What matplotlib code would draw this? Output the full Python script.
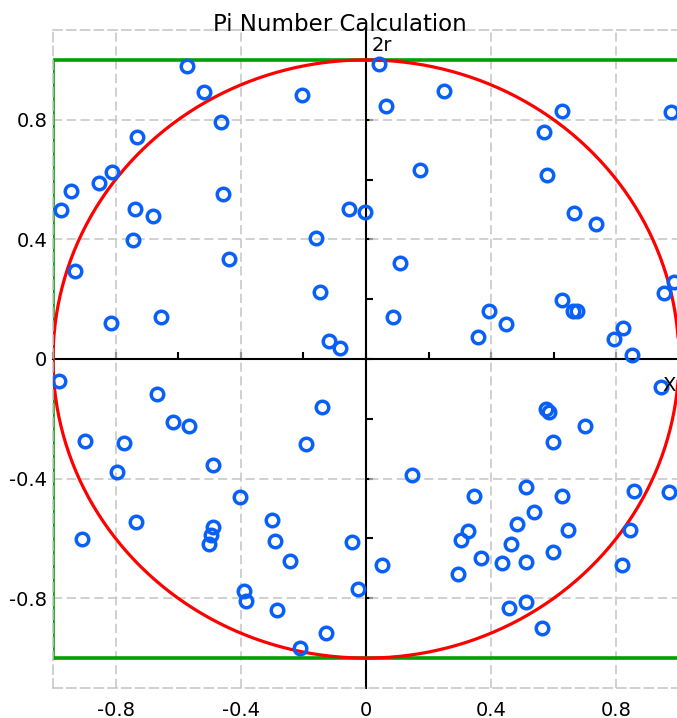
import matplotlib
matplotlib.use("Agg")
import matplotlib.pyplot as plt
import matplotlib.ticker as mticker
import numpy as np

# random points (x, y)
px = [-0.572, -0.516, -0.464, -0.733, -0.811, -0.852, -0.942, -0.974, -0.738, -0.680,
      -0.457, -0.743, -0.439, -0.929, -0.655, -0.814,
      0.041, -0.204, 0.248, 0.065, 0.172, -0.055, -0.003, -0.158, 0.110, -0.148,
      0.085, -0.117, -0.082,
      0.627, 0.570, 0.975, 0.578, 0.666, 0.734, 0.983, 0.953, 0.627, 0.662,
      0.676, 0.394, 0.447, 0.359, 0.823, 0.792, 0.851,
      -0.982, -0.668, -0.617, -0.567, -0.899, -0.772, -0.796, -0.488, -0.404, -0.734,
      -0.908, -0.489, -0.495, -0.502, -0.390, -0.382,
      -0.142, -0.193, 0.147, -0.300, -0.291, -0.046, -0.244, 0.052, -0.024, -0.283,
      -0.128, -0.211,
      0.943, 0.576, 0.585, 0.699, 0.598, 0.512, 0.345, 0.628, 0.856, 0.969,
      0.538, 0.482, 0.327, 0.305, 0.645, 0.845, 0.465, 0.367, 0.436, 0.510,
      0.598, 0.819, 0.294, 0.457, 0.510, 0.563]
py = [0.981, 0.892, 0.791, 0.741, 0.624, 0.587, 0.561, 0.497, 0.500, 0.477,
      0.552, 0.398, 0.333, 0.295, 0.139, 0.120,
      0.985, 0.883, 0.897, 0.847, 0.632, 0.500, 0.493, 0.405, 0.321, 0.223,
      0.140, 0.060, 0.038,
      0.830, 0.759, 0.827, 0.615, 0.488, 0.452, 0.258, 0.221, 0.196, 0.161,
      0.161, 0.161, 0.117, 0.074, 0.105, 0.066, 0.012,
      -0.075, -0.116, -0.210, -0.224, -0.275, -0.282, -0.377, -0.354, -0.460, -0.544,
      -0.602, -0.562, -0.587, -0.618, -0.777, -0.810,
      -0.162, -0.285, -0.389, -0.539, -0.608, -0.611, -0.676, -0.690, -0.768, -0.840,
      -0.915, -0.967,
      -0.095, -0.167, -0.178, -0.225, -0.278, -0.427, -0.459, -0.459, -0.442, -0.445,
      -0.512, -0.550, -0.574, -0.606, -0.573, -0.572, -0.618, -0.664, -0.681, -0.678,
      -0.645, -0.688, -0.718, -0.832, -0.811, -0.898]

r = 1.0
square_x = [-r, r, r, -r, -r]
square_y = [-r, -r, r, r, -r]
ticks = [-0.8, -0.4, 0, 0.4, 0.8]
tick_labels = ['-0.8', '-0.4', '0', '0.4', '0.8']

fig = plt.figure(figsize=(6.77, 7.18), dpi=100)
ax = fig.add_axes([53/677, 30/718, 1 - 53/677, 658/718])
xmin, xmax = -1.0, 0.994
ax.set_xlim(xmin, xmax)
ax.set_ylim(-1.1, 1.1)

# dashed grey frame + grid
for s in ['left', 'top', 'bottom']:
    ax.spines[s].set_linestyle((0, (6, 3)))
    ax.spines[s].set_color('#c4c4c4')
    ax.spines[s].set_linewidth(1.1)
ax.spines['right'].set_visible(False)
ax.set_xticks(ticks, tick_labels)
ax.set_yticks(ticks, tick_labels)
ax.tick_params(length=0, labelsize=14)
ax.tick_params(axis='x', pad=9)
ax.tick_params(axis='y', pad=4)
ax.grid(True, color='#c4c4c4', linestyle=(0, (6, 3)), linewidth=1.1)
ax.xaxis.get_gridlines()[2].set_visible(False)
ax.yaxis.get_gridlines()[2].set_visible(False)

# axes through the origin
sx = ax.secondary_xaxis(0.5)
sy = ax.secondary_yaxis((0 - xmin) / (xmax - xmin))
sx.set_alignment('top')
sy.set_alignment('right')
for sa, axis, sp in [(sx, sx.xaxis, 'top'), (sy, sy.yaxis, 'right')]:
    axis.set_major_locator(mticker.MultipleLocator(0.2))
    axis.set_major_formatter(mticker.NullFormatter())
    sa.spines[sp].set_color('black')
    sa.spines[sp].set_linewidth(1.5)
    sa.spines[sp].set_linestyle('-')
    sa.tick_params(direction='out', length=5, width=1.5, color='black')
    sa.set_zorder(1)

ax.plot(square_x, square_y, color='#00a000', lw=2.6, zorder=2)
t = np.linspace(0, 2*np.pi, 400)
ax.plot(r*np.cos(t), r*np.sin(t), color='#ff0000', lw=2.3, zorder=2.2)
ax.plot(px, py, 'o', ls='none', markersize=9, markerfacecolor='none',
        markeredgecolor='#0860f8', markeredgewidth=2.5, zorder=3)

ax.text(0.017, 1.048, '2r', fontsize=14, ha='left', va='center')
ax.text(xmax - 0.005, -0.09, 'X', fontsize=14, ha='right', va='center')
fig.text(340/677, 1 - 31/718, 'Pi Number Calculation', fontsize=16.5,
         ha='center', va='baseline')

fig.savefig('out.png', dpi=100)
